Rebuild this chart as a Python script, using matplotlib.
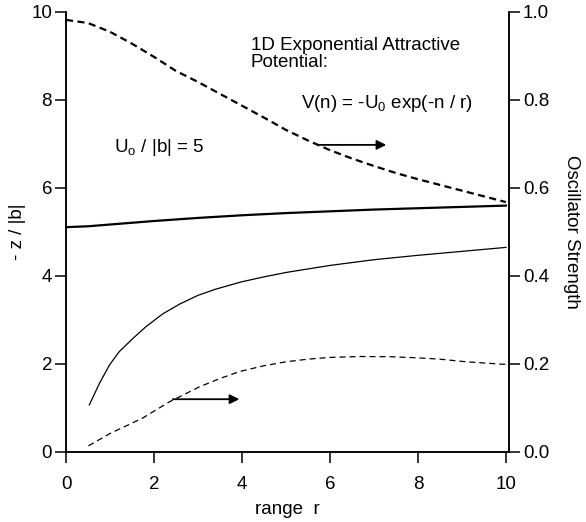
import matplotlib
matplotlib.use("Agg")
import matplotlib.pyplot as plt

plt.rcParams['font.family'] = ['Liberation Sans', 'DejaVu Sans']
plt.rcParams['font.size'] = 13.5
plt.rcParams['mathtext.fontset'] = 'custom'
plt.rcParams['mathtext.rm'] = 'Liberation Sans'
plt.rcParams['mathtext.it'] = 'Liberation Sans'

# Oscillator strength (right axis), thick dashed
r_osc1 = [0.0, 0.5, 1.0, 1.5, 2.0, 2.5, 3.0, 3.5, 4.0, 4.5, 5.0, 5.5, 6.0, 6.5, 7.0, 7.5, 8.0, 8.5, 9.0, 9.5, 10.0]
f_osc1 = [0.982, 0.975, 0.955, 0.928, 0.898, 0.866, 0.841, 0.814, 0.787, 0.760, 0.732, 0.708, 0.686, 0.667, 0.650, 0.634, 0.620, 0.607, 0.594, 0.581, 0.568]

# -z/|b| (left axis), thick solid
r_z1 = [0.0, 0.5, 1.0, 2.0, 3.0, 4.0, 5.0, 6.0, 7.0, 8.0, 9.0, 10.0]
z1 = [5.11, 5.13, 5.17, 5.25, 5.32, 5.38, 5.43, 5.47, 5.51, 5.54, 5.57, 5.60]

# -z/|b| (left axis), thin solid
r_z2 = [0.53, 0.76, 0.99, 1.21, 1.52, 1.82, 2.2, 2.58, 3.0, 3.4, 4.0, 4.5, 5.0, 6.0, 7.0, 8.0, 9.0, 10.0]
z2 = [1.07, 1.56, 1.98, 2.28, 2.58, 2.85, 3.14, 3.36, 3.56, 3.70, 3.87, 3.98, 4.08, 4.24, 4.37, 4.47, 4.56, 4.65]

# Oscillator strength (right axis), thin dashed
r_osc2 = [0.51, 1.0, 1.74, 2.35, 3.03, 3.5, 3.95, 4.5, 5.0, 5.5, 6.0, 6.7, 7.36, 8.0, 8.5, 9.1, 10.0]
f_osc2 = [0.014, 0.042, 0.077, 0.114, 0.148, 0.167, 0.183, 0.196, 0.205, 0.211, 0.215, 0.217, 0.2166, 0.214, 0.211, 0.205, 0.199]

fig = plt.figure(figsize=(5.86, 5.22), dpi=100)
ax = fig.add_axes([66/586, 1 - 452/522, (509-66)/586, (452-12)/522])
ax2 = ax.twinx()

ax.plot(r_z1, z1, color='black', lw=1.6)
ax.plot(r_z2, z2, color='black', lw=0.9)
ax2.plot(r_osc1, f_osc1, color='black', lw=1.6, dashes=(3.2, 2.0))
ax2.plot(r_osc2, f_osc2, color='black', lw=0.9, dashes=(4.8, 3.2))

ax.set_xlim(0, 10.07)
ax.set_ylim(0, 10)
ax2.set_ylim(0, 1.0)
ax.set_xticks([0, 2, 4, 6, 8, 10])
ax.set_yticks([0, 2, 4, 6, 8, 10])
ax2.set_yticks([0.0, 0.2, 0.4, 0.6, 0.8, 1.0])
ax2.set_yticklabels(['0.0', '0.2', '0.4', '0.6', '0.8', '1.0'])

for a in (ax, ax2):
    a.spines['top'].set_visible(False)
    for s in a.spines.values():
        s.set_linewidth(1.1)
    a.tick_params(direction='out', length=8, width=1.1, labelsize=13.5)
ax.tick_params(axis='y', pad=2)
ax2.tick_params(axis='y', pad=2)
ax.tick_params(axis='x', pad=9)

ax.set_xlabel('range  r', fontsize=13.5, labelpad=6)
ax.set_ylabel('- z / |b|', fontsize=13.5, labelpad=4)
ax2.set_ylabel('Oscillator Strength', fontsize=13.5, rotation=270, labelpad=22)

ax.text(4.2, 9.44, '1D Exponential Attractive\nPotential:', fontsize=13.5, va='top', ha='left', linespacing=1.0)
ax.text(9.25, 7.91, 'V(n) = -U$_\\mathrm{0}$ exp(-n / r)', fontsize=13.5, va='center', ha='right')
ax.text(1.1, 6.92, 'U$_\\mathrm{o}$ / |b| = 5', fontsize=13.5, va='center', ha='left')

ax.annotate('', xy=(7.28, 6.98), xytext=(5.77, 6.98),
            arrowprops=dict(arrowstyle='-|>', color='black', lw=1.3, mutation_scale=14, shrinkA=0, shrinkB=0))
ax.annotate('', xy=(3.94, 1.2), xytext=(2.43, 1.2),
            arrowprops=dict(arrowstyle='-|>', color='black', lw=1.3, mutation_scale=14, shrinkA=0, shrinkB=0))

fig.savefig('out.png', dpi=100)
